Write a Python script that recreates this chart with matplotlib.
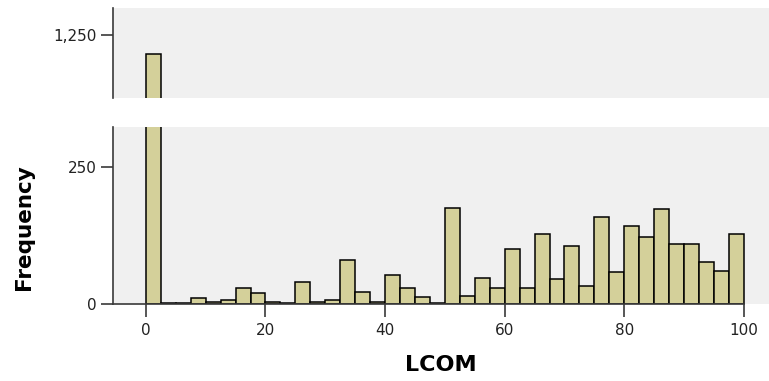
import matplotlib
matplotlib.use("Agg")
import matplotlib.pyplot as plt
import numpy as np

bin_width = 2.5
bin_starts = [i * 2.5 for i in range(40)]
counts = [1215, 2, 2, 11, 4, 7, 29, 20, 4, 2,
          40, 4, 7, 81, 21, 4, 53, 29, 13, 2,
          176, 15, 48, 29, 100, 29, 127, 46, 106, 32,
          159, 58, 142, 122, 173, 109, 109, 77, 60, 128]
x_ticks = [0, 20, 40, 60, 80, 100]
y_ticks_low = [0, 250]
y_ticks_high = [1250]

W, H = 769, 381
fig = plt.figure(figsize=(W / 100, H / 100), dpi=100)
fig.patch.set_facecolor("white")

bg = "#f0f0f0"
bar_color = "#d4d09a"
spine_c = "#3a3a3a"
font = "DejaVu Sans"
x_lo, x_hi = -5.5, 104.2

ax_lo = fig.add_axes([113 / W, (H - 304) / H, 1 - 113 / W, (304 - 127) / H])
ax_hi = fig.add_axes([113 / W, (H - 98) / H, 1 - 113 / W, (98 - 8) / H])

for ax in (ax_lo, ax_hi):
    ax.set_facecolor(bg)
    ax.bar(bin_starts, counts, width=bin_width, align="edge",
           color=bar_color, edgecolor="black", linewidth=1.1, zorder=2)
    ax.set_xlim(x_lo, x_hi)
    for s in ("top", "right"):
        ax.spines[s].set_visible(False)
    ax.spines["left"].set_color(spine_c)
    ax.spines["left"].set_linewidth(1.2)
    ax.tick_params(axis="y", length=9, width=1.2, color=spine_c,
                   labelsize=11, labelcolor="#222222", pad=3)

ax_lo.set_ylim(0, 323)
ax_lo.set_yticks(y_ticks_low)
ax_lo.set_yticklabels([f"{v:,}" for v in y_ticks_low], family=font)
ax_lo.set_xticks(x_ticks)
ax_lo.set_xticklabels([str(v) for v in x_ticks], family=font)
ax_lo.tick_params(axis="x", length=9, width=1.2, color=spine_c,
                  labelsize=11, labelcolor="#222222", pad=5)
ax_lo.spines["bottom"].set_color(spine_c)
ax_lo.spines["bottom"].set_linewidth(1.2)
ax_lo.spines["bottom"].set_bounds(x_lo, 100)
ax_lo.set_xlabel("LCOM", fontsize=16, fontweight="bold", family=font, labelpad=12)

ax_hi.set_ylim(1135, 1299)
ax_hi.set_yticks(y_ticks_high)
ax_hi.set_yticklabels([f"{v:,}" for v in y_ticks_high], family=font)
ax_hi.spines["bottom"].set_visible(False)
ax_hi.set_xticks([])

fig.text(0.031, (H - 227) / H, "Frequency", rotation=90, ha="center", va="center",
         fontsize=15.5, fontweight="bold", family=font)

fig.savefig("out.png", dpi=100, facecolor="white")
